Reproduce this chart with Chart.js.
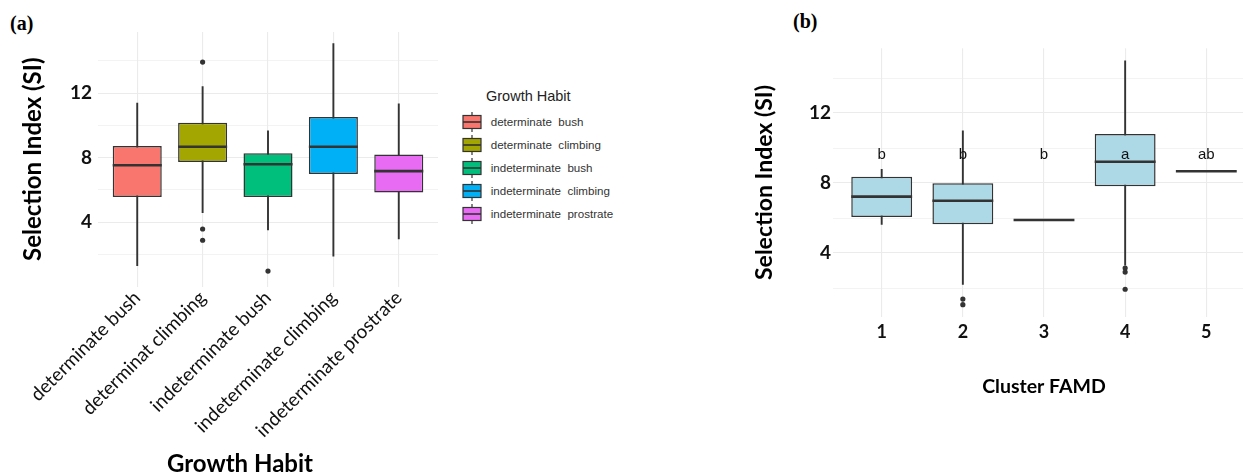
<!DOCTYPE html>
<html><head><meta charset="utf-8">
<script src="https://cdn.jsdelivr.net/npm/chart.js@4.4.0/dist/chart.umd.min.js"></script>
<style>
html,body{margin:0;padding:0;background:#fff;}
body{width:1243px;height:473px;overflow:hidden;position:relative;}
.abs{position:absolute;}
.tag{font-family:"Liberation Serif","Times New Roman",serif;font-weight:bold;font-size:20px;line-height:22px;color:#000;}
.lgTitle{font-family:"Liberation Sans",Arial,sans-serif;font-size:14.5px;line-height:17px;color:#222;white-space:pre;}
.lgRow{font-family:"Liberation Sans",Arial,sans-serif;font-size:11.6px;line-height:22px;color:#333;white-space:pre;}
.xTitle{font-family:Lato,sans-serif;font-weight:bold;font-size:24px;line-height:28px;color:#000;white-space:nowrap;transform:translateX(-50%);}
</style></head><body>
<div class="abs tag" style="left:10px;top:12px">(a)</div>
<div class="abs tag" style="left:793px;top:10px">(b)</div>
<canvas id="chartA" class="abs" style="left:0;top:0;width:450px;height:473px" width="450" height="473"></canvas>
<canvas id="chartB" class="abs" style="left:740px;top:0;width:520px;height:473px" width="520" height="473"></canvas>
<div class="abs xTitle" style="left:240px;top:449px">Growth Habit</div>
<div id="legendA" class="abs" style="left:0;top:0"></div>
<script>
// ---------- Panel (a): Selection Index by growth habit ----------
const habitCategories = ['determinate bush','determinat climbing','indeterminate bush','indeterminate climbing','indeterminate prostrate'];
const habitLegendLabels = ['determinate  bush','determinate  climbing','indeterminate  bush','indeterminate  climbing','indeterminate  prostrate'];
const habitColors = ['#F8766D','#A3A500','#00BF7D','#00B0F6','#E76BF3'];
const habitWhiskerLow  = [1.29, 4.58, 3.51, 1.88, 2.95];
const habitQ1          = [5.56, 7.73, 5.56, 6.99, 5.83];
const habitMedian      = [7.53, 8.68, 7.59, 8.68, 7.16];
const habitQ3          = [8.73, 10.17, 8.27, 10.53, 8.19];
const habitWhiskerHigh = [11.38, 12.41, 9.66, 15.08, 11.34];
const habitOutliers    = [[], [13.93, 3.57, 2.87], [0.96], [], []];

// ---------- Panel (b): Selection Index by FAMD cluster ----------
const clusterCategories = ['1','2','3','4','5'];
const clusterColors = ['#ADD8E6','#ADD8E6','#ADD8E6','#ADD8E6','#ADD8E6'];
const clusterWhiskerLow  = [5.64, 2.21, null, 3.31, null];
const clusterQ1          = [6.06, 5.64, null, 7.81, null];
const clusterMedian      = [7.22, 6.99, 5.89, 9.22, 8.67];
const clusterQ3          = [8.36, 7.98, null, 10.80, null];
const clusterWhiskerHigh = [8.78, 10.99, null, 14.99, null];
const clusterOutliers    = [[], [1.37, 1.05], [], [3.14, 2.91, 1.93], []];
const clusterLetters     = ['b','b','b','a','ab'];
const clusterLetterLevel = 9.61;

// ---------- shared axis ticks ----------
const yTickValues  = [2, 4, 6, 8, 10, 12, 14];
const yLabelValues = [4, 8, 12];

const letterPlugin = {
  id: 'letters',
  afterDatasetsDraw(chart, args, opts) {
    if (!opts || !opts.letters) return;
    const ctx = chart.ctx, xs = chart.scales.x, ys = chart.scales.y;
    ctx.save();
    ctx.font = opts.font;
    ctx.fillStyle = opts.color;
    ctx.textAlign = 'center';
    ctx.textBaseline = 'middle';
    opts.letters.forEach((t, i) => ctx.fillText(t, xs.getPixelForValue(i), ys.getPixelForValue(opts.level)));
    ctx.restore();
  }
};

function boxChart(canvasId, o) {
  const idx = o.categories.map((c, i) => i);
  const whiskerData = idx.filter(i => o.low[i] != null).map(i => ({x: i, y: [o.low[i], o.high[i]]}));
  const boxData = idx.filter(i => o.q1[i] != null).map(i => ({x: i, y: [o.q1[i], o.q3[i]]}));
  const medianData = idx.map(i => ({x: i, y: o.median[i]}));
  const outData = [];
  idx.forEach(i => o.outliers[i].forEach(v => outData.push({x: i, y: v})));
  const halfBox = (ctx) => {
    const xs = ctx.chart.scales.x;
    return Math.abs(xs.getPixelForValue(1) - xs.getPixelForValue(0)) * 0.75 / 2;
  };
  const dark = '#333333';
  return new Chart(document.getElementById(canvasId), {
    type: 'bar',
    data: {
      datasets: [
        { type: 'bar', data: whiskerData, backgroundColor: dark, borderWidth: 0, barThickness: 1.25, grouped: false, order: 4 },
        { type: 'bar', data: boxData, backgroundColor: (c) => o.colors[c.raw ? c.raw.x : 0], borderColor: dark,
          borderWidth: 1.5, borderSkipped: false, categoryPercentage: 1, barPercentage: 0.75, grouped: false, order: 3 },
        { type: 'line', data: medianData, showLine: false, pointStyle: 'line', pointRadius: halfBox, pointHoverRadius: halfBox,
          pointBorderWidth: 2.6, pointBorderColor: dark, order: 2 },
        { type: 'line', data: outData, showLine: false, pointStyle: 'circle', pointRadius: 2.6, pointHoverRadius: 2.6,
          pointBackgroundColor: dark, pointBorderWidth: 0, order: 1 }
      ]
    },
    plugins: [letterPlugin],
    options: {
      responsive: false,
      animation: false,
      events: [],
      layout: { padding: { top: o.padTop, right: o.padRight, left: 0, bottom: 0 } },
      plugins: {
        legend: { display: false },
        tooltip: { enabled: false },
        letters: o.letters ? { letters: o.letters, level: o.letterLevel, font: '15px "Liberation Sans", Arial, sans-serif', color: '#111' } : {}
      },
      scales: {
        x: {
          type: 'linear', offset: false,
          min: -0.6, max: o.categories.length - 1 + 0.6,
          afterBuildTicks: (s) => { s.ticks = idx.map(i => ({value: i})); },
          afterFit: (s) => { s.height = o.xAxisHeight; },
          grid: { color: '#EBEBEB', lineWidth: 1.1, drawTicks: false, offset: false },
          border: { display: false },
          ticks: {
            callback: (v) => o.categories[v], autoSkip: false,
            maxRotation: o.xRot, minRotation: o.xRot, padding: o.xTickPad,
            font: o.xTickFont, color: '#111'
          },
          title: o.xTitle ? { display: true, text: o.xTitle, font: o.xTitleFont, color: '#000', padding: { top: 0, bottom: o.xTitlePad } } : { display: false }
        },
        y: {
          min: o.yMin, max: o.yMax,
          afterBuildTicks: (s) => { s.ticks = yTickValues.map(v => ({value: v})); },
          afterFit: (s) => { s.width = o.yAxisWidth; },
          grid: { color: '#EBEBEB', lineWidth: (c) => (c.tick && yLabelValues.includes(c.tick.value)) ? 1.1 : 0.6, drawTicks: false },
          border: { display: false },
          ticks: {
            callback: (v) => yLabelValues.includes(v) ? String(v) : '', autoSkip: false,
            padding: o.yTickPad, font: { family: 'Lato', weight: 'bold', size: 19 }, color: '#111'
          },
          title: { display: true, text: 'Selection Index (SI)', font: o.yTitleFont, color: '#000', padding: { top: o.yTitlePad, bottom: 0 } }
        }
      }
    }
  });
}

boxChart('chartA', {
  categories: habitCategories, colors: habitColors,
  low: habitWhiskerLow, q1: habitQ1, median: habitMedian, q3: habitQ3, high: habitWhiskerHigh, outliers: habitOutliers,
  yMin: 0, yMax: 15.8, padTop: 32, padRight: 12, yAxisWidth: 98, xAxisHeight: 186.5,
  yTickPad: 6, yTitlePad: 19, yTitleFont: { family: 'Lato', weight: 'bold', size: 24 },
  xRot: 45, xTickPad: 0, xTickFont: { family: 'Lato', size: 19 }, xTitle: null
});

boxChart('chartB', {
  categories: clusterCategories, colors: clusterColors,
  low: clusterWhiskerLow, q1: clusterQ1, median: clusterMedian, q3: clusterQ3, high: clusterWhiskerHigh, outliers: clusterOutliers,
  letters: clusterLetters, letterLevel: clusterLetterLevel,
  yMin: 0.36, yMax: 15.7, padTop: 48.3, padRight: 5, yAxisWidth: 93, xAxisHeight: 156.3,
  yTickPad: 2, yTitlePad: 10.5, yTitleFont: { family: 'Lato', weight: 'bold', size: 23 },
  xRot: 0, xTickPad: 5, xTickFont: { family: 'Lato', weight: 'bold', size: 18 },
  xTitle: 'Cluster FAMD', xTitleFont: { family: 'Lato', weight: 'bold', size: 19.5 }, xTitlePad: 75
});

// ---------- legend for panel (a) ----------
(function buildLegend() {
  const host = document.getElementById('legendA');
  const title = document.createElement('div');
  title.className = 'abs lgTitle';
  title.style.left = '486px'; title.style.top = '88px';
  title.textContent = 'Growth Habit';
  host.appendChild(title);
  const rowCenters = [122.3, 145.2, 168.1, 191.0, 213.9];
  habitLegendLabels.forEach((lab, i) => {
    const key = document.createElement('canvas');
    key.width = 20; key.height = 22;
    key.className = 'abs';
    key.style.left = '462px'; key.style.top = (rowCenters[i] - 11) + 'px';
    const g = key.getContext('2d');
    g.strokeStyle = '#333'; g.lineWidth = 1.2;
    g.beginPath(); g.moveTo(10, 1); g.lineTo(10, 21); g.stroke();
    g.fillStyle = habitColors[i];
    g.fillRect(1, 4.5, 18, 13);
    g.strokeRect(1, 4.5, 18, 13);
    g.lineWidth = 1.6;
    g.beginPath(); g.moveTo(1, 11); g.lineTo(19, 11); g.stroke();
    host.appendChild(key);
    const t = document.createElement('div');
    t.className = 'abs lgRow';
    t.style.left = '490.7px'; t.style.top = (rowCenters[i] - 11) + 'px';
    t.textContent = lab;
    host.appendChild(t);
  });
})();
</script>
</body></html>
